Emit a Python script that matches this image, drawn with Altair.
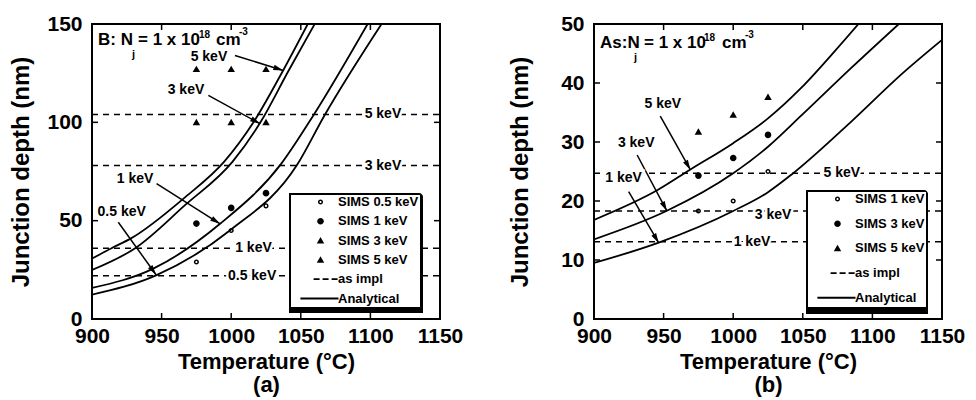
import math
import altair as alt
import pandas as pd

FONT = "Liberation Sans"
PANEL_W, PANEL_H = 348, 295
T_DOMAIN = [900, 1150]
T_TICKS = [900, 950, 1000, 1050, 1100, 1150]
SIMS_T = [975, 1000, 1025]

# ---------------- (a) boron, N_j = 1e18 cm^-3 ----------------
B_YMAX = 150
B_YTICKS = [0, 50, 100, 150]
B_CURVES = ["5 keV", "3 keV", "1 keV", "0.5 keV"]
B_CURVE_T = [
    [900, 914, 928, 967, 995, 1016, 1037, 1055],
    [900, 931, 967, 1001, 1021, 1041, 1060],
    [900, 944, 992, 1036, 1059, 1098],
    [900, 946, 999, 1047, 1067, 1108],
]
B_CURVE_D = [
    [30.7, 36, 41, 62, 80, 100, 126, 150],
    [24.9, 36, 58, 80, 100, 126, 150],
    [15.8, 25.6, 48.4, 79, 103.5, 150],
    [12.4, 22.2, 45, 78, 103.5, 150],
]
B_SIMS = ["SIMS 0.5 keV", "SIMS 1 keV", "SIMS 3 keV", "SIMS 5 keV"]
B_SIMS_D = [[29, 45, 57.5], [48.5, 56.5, 64], [100, 100, 100], [127, 127, 127]]
B_IMPL_LABELS = ["5 keV", "3 keV", "1 keV", "0.5 keV"]
B_IMPL_D = [104, 78, 36, 22]
B_IMPL_LABEL_T = [1109, 1109, 1016, 1015]
B_IMPL_LABEL_D = [104, 78, 36, 22]
B_ARROW_LABELS = ["5 keV", "3 keV", "1 keV", "0.5 keV"]
B_ARROW_LABEL_T = [984, 967.5, 931, 921.3]
B_ARROW_LABEL_D = [133.2, 116.3, 71.3, 54.4]
B_ARROW_FROM_T = [1002.7, 983.6, 946.4, 918.9]
B_ARROW_FROM_D = [134, 113.7, 68.8, 49.2]
B_ARROW_TO_T = [1037.4, 1020.7, 992, 946]
B_ARROW_TO_D = [126.4, 99.3, 48.4, 22.5]

# ---------------- (b) arsenic, N_j = 1e18 cm^-3 ----------------
AS_YMAX = 50
AS_YTICKS = [0, 10, 20, 30, 40, 50]
AS_CURVES = ["5 keV", "3 keV", "1 keV"]
AS_CURVE_T = [
    [900, 946, 969, 1000, 1025, 1049, 1073, 1090],
    [900, 952, 1000, 1025, 1049, 1085, 1119],
    [900, 946, 1000, 1025, 1042, 1085, 1121, 1150],
]
AS_CURVE_D = [
    [16.8, 21.9, 25.3, 29.8, 34.0, 39.2, 45.4, 50],
    [13.5, 18.3, 24.7, 29.2, 34.5, 42.6, 50],
    [9.5, 12.9, 18.3, 21.5, 24.5, 33.5, 41.5, 47.3],
]
AS_SIMS = ["SIMS 1 keV", "SIMS 3 keV", "SIMS 5 keV"]
AS_SIMS_D = [[18.3, 20, 25], [24.3, 27.3, 31.2], [31.7, 34.6, 37.6]]
AS_IMPL_LABELS = ["5 keV", "3 keV", "1 keV"]
AS_IMPL_D = [24.7, 18.3, 13.1]
AS_IMPL_LABEL_T = [1078, 1028.7, 1013.5]
AS_IMPL_LABEL_D = [24.7, 17.7, 13.1]
AS_ARROW_LABELS = ["5 keV", "3 keV", "1 keV"]
AS_ARROW_LABEL_T = [949.4, 930.3, 921.3]
AS_ARROW_LABEL_D = [36.4, 29.8, 23.9]
AS_ARROW_FROM_T = [947.6, 931, 924.9]
AS_ARROW_FROM_D = [34.4, 27.8, 21.6]
AS_ARROW_TO_T = [969.2, 952.4, 946.5]
AS_ARROW_TO_D = [25.3, 18.3, 12.9]

# Marker / legend glyphs (custom paths, unit = 3 px at size 36)
RING = ("M-0.85,0A0.85,0.85,0,1,1,0.85,0A0.85,0.85,0,1,1,-0.85,0Z"
        "M-0.35,0A0.35,0.35,0,1,0,0.35,0A0.35,0.35,0,1,0,-0.35,0Z")
DOT = "M-1.1,0A1.1,1.1,0,1,1,1.1,0A1.1,1.1,0,1,1,-1.1,0Z"
TRI = "M0,-1.2L1.25,0.95L-1.25,0.95Z"
DASHED = ("M-2.3,-0.28H-0.3V0.28H-2.3Z M0.7,-0.28H2.7V0.28H0.7Z "
          "M3.7,-0.28H5.7V0.28H3.7Z")
SOLID = "M-6.7,-0.33H6V0.33H-6.7Z"
ARROW_HEAD = "M0,0L0.5,1.8L-0.5,1.8Z"


def curves_frame(names, ts, ds):
    rows = []
    for name, tt, dd in zip(names, ts, ds):
        rows += [{"curve": name, "T": t, "d": d} for t, d in zip(tt, dd)]
    return pd.DataFrame(rows)


def sims_frame(names, ds):
    rows = []
    for name, dd in zip(names, ds):
        rows += [{"series": name, "T": t, "d": d} for t, d in zip(SIMS_T, dd)]
    return pd.DataFrame(rows)


def arrows_frame(t0, d0, t1, d1, ymax):
    rows = []
    for a, b, c, e in zip(t0, d0, t1, d1):
        dx = (c - a) / (T_DOMAIN[1] - T_DOMAIN[0]) * PANEL_W
        dy = -(e - b) / ymax * PANEL_H
        ang = math.degrees(math.atan2(dx, -dy)) % 360
        rows.append({"T0": a, "d0": b, "T1": c, "d1": e, "ang": ang})
    return pd.DataFrame(rows)


def panel(p):
    xs = alt.Scale(domain=T_DOMAIN, nice=False, zero=False)
    ys = alt.Scale(domain=[0, p["ymax"]], nice=False, zero=True)
    xaxis = alt.Axis(values=T_TICKS, title=["Temperature (°C)", p["tag"]], format="d",
                     grid=False, ticks=False, domain=False, labelFlush=False,
                     labelOverlap=False, labelPadding=6, titlePadding=5,
                     titleFontSize=22, titleLineHeight=23)
    yaxis = alt.Axis(values=p["yticks"], title="Junction depth (nm)", format="d",
                     grid=False, ticks=False, domain=False, labelPadding=10,
                     titleFontSize=24, titleX=p["ytitle_x"], titleY=PANEL_H / 2,
                     titleBaseline="middle")

    def X(f):
        return alt.X(f"{f}:Q", scale=xs, axis=xaxis)

    def Y(f):
        return alt.Y(f"{f}:Q", scale=ys, axis=yaxis)

    one = pd.DataFrame({"k": [0]})
    lx, ly, lw, lh = p["legend_box"]
    shadow = alt.Chart(one).mark_rect(color="black", cornerRadiusTopRight=4).encode(
        x=alt.value(lx - 1), x2=alt.value(lx + lw + 5),
        y=alt.value(ly - 1), y2=alt.value(ly + lh + 6))

    impl = pd.DataFrame({"T0": T_DOMAIN[0], "T1": T_DOMAIN[1], "d": p["impl_d"]})
    impl_rules = alt.Chart(impl).mark_rule(
        color="black", strokeWidth=1.5, strokeDash=[6, 5]).encode(
        x=X("T0"), x2="T1", y=Y("d"))

    curves = alt.Chart(curves_frame(p["curves"], p["curve_t"], p["curve_d"])).mark_line(
        color="black", strokeWidth=1.8, interpolate="monotone", clip=True).encode(
        x=X("T"), y=Y("d"), detail="curve:N")

    legend = alt.Legend(
        title=None, orient="none", legendX=lx, legendY=ly,
        fillColor="white", strokeColor="black", padding=1.5,
        rowPadding=p["row_pad"], symbolOffset=22.5, labelOffset=11,
        labelFont=FONT, labelFontSize=13, labelFontWeight="bold", labelColor="black",
        symbolSize=36, symbolFillColor="black", symbolStrokeWidth=0, symbolOpacity=1)
    order = p["sims"] + ["as impl", "Analytical"]
    shapes = p["sims_shapes"] + [DASHED, SOLID]
    points = alt.Chart(sims_frame(p["sims"], p["sims_d"])).mark_point(
        filled=True, color="black", opacity=1, size=36).encode(
        x=X("T"), y=Y("d"),
        shape=alt.Shape("series:N", scale=alt.Scale(domain=order, range=shapes),
                        legend=legend))

    arr = arrows_frame(p["arrow_from_t"], p["arrow_from_d"],
                       p["arrow_to_t"], p["arrow_to_d"], p["ymax"])
    arrow_lines = alt.Chart(arr).mark_rule(color="black", strokeWidth=1.5).encode(
        x=X("T0"), y=Y("d0"), x2="T1", y2="d1")
    arrow_heads = alt.Chart(arr).mark_point(
        shape=ARROW_HEAD, filled=True, color="black", opacity=1, size=121).encode(
        x=X("T1"), y=Y("d1"), angle=alt.Angle("ang:Q", scale=None))

    labels = pd.concat([
        pd.DataFrame({"T": p["impl_label_t"], "d": p["impl_label_d"],
                      "label": p["impl_labels"]}),
        pd.DataFrame({"T": p["arrow_label_t"], "d": p["arrow_label_d"],
                      "label": p["arrow_labels"]}),
    ])
    text_style = dict(font=FONT, fontSize=14, fontWeight="bold", baseline="middle",
                      align="center")
    halo = alt.Chart(labels).mark_text(color="white", stroke="white", strokeWidth=5,
                                       **text_style).encode(
        x=X("T"), y=Y("d"), text="label:N")
    text = alt.Chart(labels).mark_text(color="black", **text_style).encode(
        x=X("T"), y=Y("d"), text="label:N")

    header = []
    for s, hx, hy, size in p["header"]:
        header.append(alt.Chart(one).mark_text(
            text=s, font=FONT, fontSize=size, fontWeight="bold", color="black",
            align="left", baseline="alphabetic").encode(x=alt.value(hx), y=alt.value(hy)))

    tick_style = dict(color="black", strokeWidth=1.5)
    xt = pd.DataFrame({"v": T_TICKS[1:-1]})
    yt = pd.DataFrame({"v": p["yticks"][1:-1]})
    ticks = [
        alt.Chart(xt).mark_rule(**tick_style).encode(
            x=X("v"), y=alt.value(PANEL_H), y2=alt.value(PANEL_H - 6)),
        alt.Chart(xt).mark_rule(**tick_style).encode(
            x=X("v"), y=alt.value(0), y2=alt.value(6)),
        alt.Chart(yt).mark_rule(**tick_style).encode(
            y=Y("v"), x=alt.value(0), x2=alt.value(6)),
        alt.Chart(yt).mark_rule(**tick_style).encode(
            y=Y("v"), x=alt.value(PANEL_W - 6), x2=alt.value(PANEL_W)),
    ]

    return alt.layer(shadow, impl_rules, curves, points, arrow_lines, arrow_heads,
                     halo, text, *header, *ticks).properties(
        width=PANEL_W, height=PANEL_H)


panel_a = panel(dict(
    tag="(a)", ymax=B_YMAX, yticks=B_YTICKS, ytitle_x=-71,
    curves=B_CURVES, curve_t=B_CURVE_T, curve_d=B_CURVE_D,
    sims=B_SIMS, sims_d=B_SIMS_D, sims_shapes=[RING, DOT, TRI, TRI],
    impl_d=B_IMPL_D, impl_labels=B_IMPL_LABELS,
    impl_label_t=B_IMPL_LABEL_T, impl_label_d=B_IMPL_LABEL_D,
    arrow_labels=B_ARROW_LABELS, arrow_label_t=B_ARROW_LABEL_T,
    arrow_label_d=B_ARROW_LABEL_D, arrow_from_t=B_ARROW_FROM_T,
    arrow_from_d=B_ARROW_FROM_D, arrow_to_t=B_ARROW_TO_T, arrow_to_d=B_ARROW_TO_D,
    legend_box=(198, 170, 128, 113), row_pad=5.3,
    header=[("B: N", 6, 21, 17), ("j", 40, 34, 11), ("= 1 x 10", 46, 21, 17),
            ("18", 107, 14, 10), ("cm", 124, 21, 17), ("-3", 147, 11, 10)],
))

panel_b = panel(dict(
    tag="(b)", ymax=AS_YMAX, yticks=AS_YTICKS, ytitle_x=-74,
    curves=AS_CURVES, curve_t=AS_CURVE_T, curve_d=AS_CURVE_D,
    sims=AS_SIMS, sims_d=AS_SIMS_D, sims_shapes=[RING, DOT, TRI],
    impl_d=AS_IMPL_D, impl_labels=AS_IMPL_LABELS,
    impl_label_t=AS_IMPL_LABEL_T, impl_label_d=AS_IMPL_LABEL_D,
    arrow_labels=AS_ARROW_LABELS, arrow_label_t=AS_ARROW_LABEL_T,
    arrow_label_d=AS_ARROW_LABEL_D, arrow_from_t=AS_ARROW_FROM_T,
    arrow_from_d=AS_ARROW_FROM_D, arrow_to_t=AS_ARROW_TO_T, arrow_to_d=AS_ARROW_TO_D,
    legend_box=(213, 167, 116, 117), row_pad=10.7,
    header=[("As:N", 6, 24, 17), ("j", 40, 37, 11), ("= 1 x 10", 50, 24, 17),
            ("18", 110, 17, 10), ("cm", 128, 24, 17), ("-3", 151, 14, 10)],
))

chart = alt.hconcat(panel_a, panel_b, spacing=43).resolve_scale(
    x="independent", y="independent", shape="independent").resolve_legend(
    shape="independent").configure_view(
    stroke="black", strokeWidth=2).configure_axis(
    labelFont=FONT, labelFontSize=21, labelFontWeight="bold", labelColor="black",
    titleFont=FONT, titleFontWeight="bold", titleColor="black",
).properties(padding={"left": 8, "top": 12, "right": 5, "bottom": 5},
             background="white")

chart.save("out.html", embed_options={"renderer": "svg", "actions": False})
